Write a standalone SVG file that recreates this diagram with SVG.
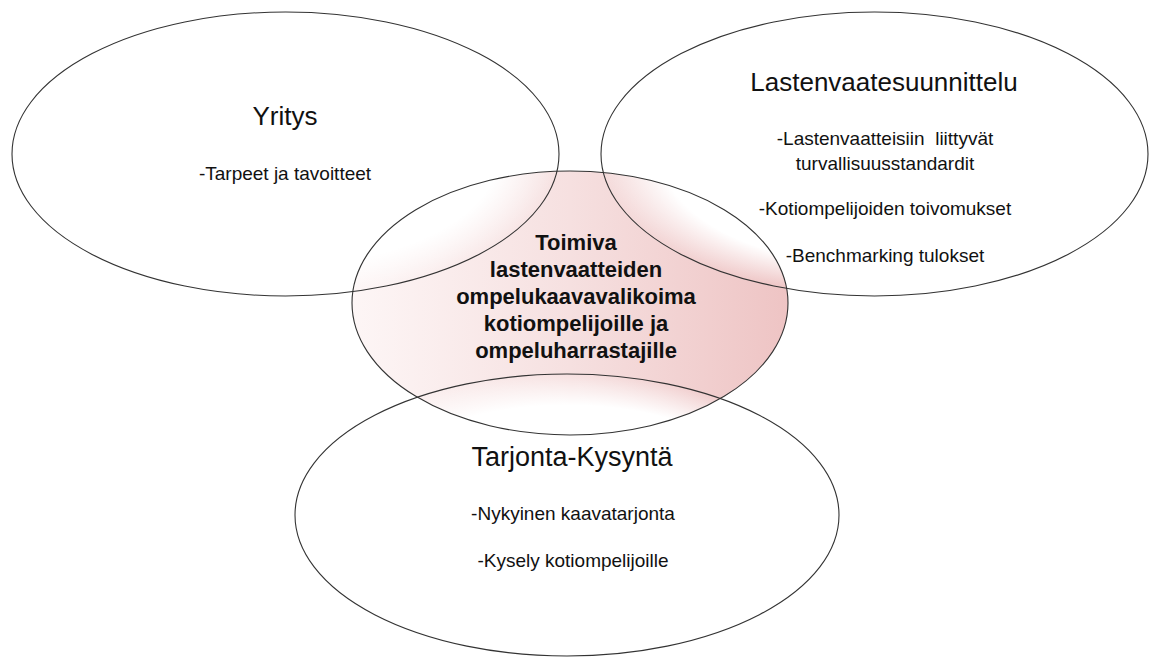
<svg xmlns="http://www.w3.org/2000/svg" width="1151" height="657" viewBox="0 0 1151 657">
<defs>
<linearGradient id="pink" x1="0" y1="0" x2="1" y2="0">
<stop offset="0" stop-color="#fdf6f6"/>
<stop offset="0.5" stop-color="#f6e0e0"/>
<stop offset="1" stop-color="#eec4c4"/>
</linearGradient>
<radialGradient id="soft" cx="0.5" cy="0.5" r="0.5">
<stop offset="0" stop-color="#ffffff" stop-opacity="1"/>
<stop offset="0.78" stop-color="#ffffff" stop-opacity="1"/>
<stop offset="1" stop-color="#ffffff" stop-opacity="0"/>
</radialGradient>
<style>
.outline{fill:none;stroke:#333333;stroke-width:1.1}
.title{font-family:"Liberation Sans",Arial,sans-serif;font-size:26px;fill:#111111;text-anchor:middle}
.item{font-family:"Liberation Sans",Arial,sans-serif;font-size:19px;fill:#111111;text-anchor:middle}
.core{font-family:"Liberation Sans",Arial,sans-serif;font-size:22px;font-weight:bold;fill:#111111;text-anchor:middle}
</style>
</defs>
<rect width="1151" height="657" fill="#ffffff"/>
<g id="fills">
<ellipse cx="570" cy="303" rx="218" ry="132" fill="url(#pink)"/>
<ellipse cx="285.5" cy="154" rx="273.5" ry="142" fill="url(#soft)"/>
<ellipse cx="874.5" cy="154" rx="273.5" ry="142" fill="url(#soft)"/>
<ellipse cx="567" cy="515" rx="272" ry="141" fill="url(#soft)"/>
</g>
<g id="center">
<ellipse class="outline" cx="570" cy="303" rx="218" ry="132"/>
<text class="core" x="576" y="250">Toimiva</text>
<text class="core" x="576" y="277">lastenvaatteiden</text>
<text class="core" x="576" y="304">ompelukaavavalikoima</text>
<text class="core" x="576" y="331">kotiompelijoille ja</text>
<text class="core" x="576" y="358">ompeluharrastajille</text>
</g>
<g id="yritys">
<ellipse class="outline" cx="285.5" cy="154" rx="273.5" ry="142"/>
<text class="title" x="285" y="125">Yritys</text>
<text class="item" x="285" y="180">-Tarpeet ja tavoitteet</text>
</g>
<g id="lastenvaatesuunnittelu">
<ellipse class="outline" cx="874.5" cy="154" rx="273.5" ry="142"/>
<text class="title" x="884" y="91">Lastenvaatesuunnittelu</text>
<text class="item" x="885" y="145" xml:space="preserve">-Lastenvaatteisiin  liittyvät</text>
<text class="item" x="885" y="170">turvallisuusstandardit</text>
<text class="item" x="885" y="215">-Kotiompelijoiden toivomukset</text>
<text class="item" x="885" y="262">-Benchmarking tulokset</text>
</g>
<g id="tarjonta">
<ellipse class="outline" cx="567" cy="515" rx="272" ry="141"/>
<text class="title" x="572" y="466" style="font-size:27px">Tarjonta-Kysyntä</text>
<text class="item" x="573" y="520">-Nykyinen kaavatarjonta</text>
<text class="item" x="573" y="567">-Kysely kotiompelijoille</text>
</g>
<g id="connectors"/>
</svg>
